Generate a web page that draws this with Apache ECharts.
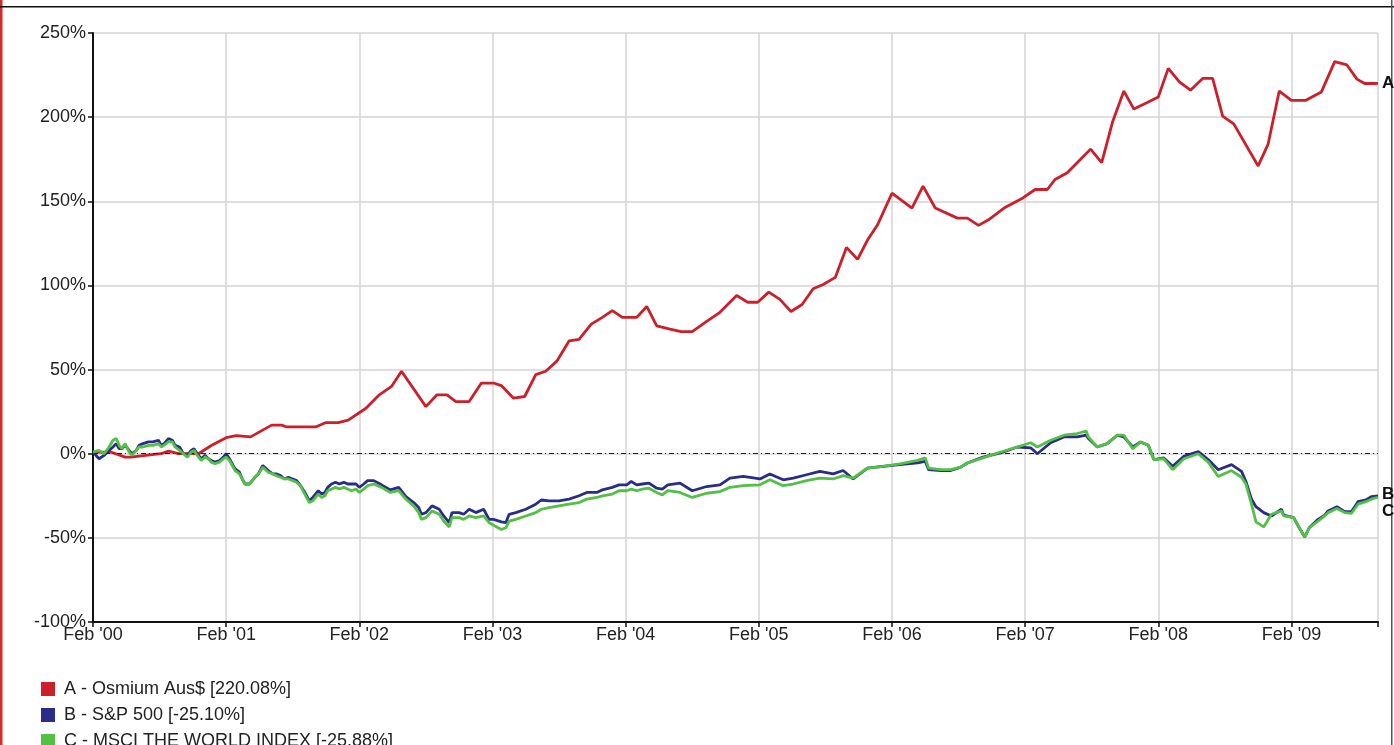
<!DOCTYPE html>
<html>
<head>
<meta charset="utf-8">
<script src="https://cdn.jsdelivr.net/npm/echarts@6/dist/echarts.min.js"></script>
<style>
html,body{margin:0;padding:0;background:#fff;}
#chart{width:1394px;height:745px;}
</style>
</head>
<body>
<div id="chart"></div>
<script>
// x positions are months since Feb 2000
const seriesNames = ['A - Osmium Aus$ [220.08%]', 'B - S&P 500 [-25.10%]', 'C - MSCI THE WORLD INDEX [-25.88%]'];
const endTags = ['A', 'B', 'C'];
const yearLabels = ["Feb '00","Feb '01","Feb '02","Feb '03","Feb '04","Feb '05","Feb '06","Feb '07","Feb '08","Feb '09"];

const aMonths = [0,1.6,2.9,3.4,6.1,6.8,7.7,9.5,10.7,12.0,12.9,14.2,16.1,17.0,17.4,20.1,21.0,22.1,23.0,24.6,25.8,26.9,27.8,30.0,31.0,31.9,32.7,33.9,35.0,36.1,36.8,37.9,38.9,39.9,40.8,41.8,42.9,43.8,44.9,45.9,46.8,47.7,49.0,49.9,50.8,52.0,53.0,54.0,55.3,56.5,58.0,59.0,59.9,60.9,61.9,62.9,63.9,64.9,65.8,66.9,67.9,68.9,69.8,70.7,72.0,73.8,74.8,75.9,77.9,78.8,79.8,80.7,82.1,83.8,84.9,86.0,86.7,87.8,89.0,89.9,90.9,91.9,92.9,93.8,95.1,96.0,96.9,97.9,98.9,100.0,100.9,101.8,102.8,105.0,105.9,106.9,108.0,109.3,110.7,111.9,113.0,113.9,114.6,115.4,115.8];
const aValues = [1,1,-2,-2,0,1.5,0,0,5,9.5,10.7,10,17,17,16,16,18.5,18.5,20,27,35,40,49,28,35,35,31,31,42,42,40.5,33,34,47,49,55,67,68,77,81,85,81,81,87.5,76,74,72.6,72.6,78.6,84,94,90,90,96,91.7,84.5,88.7,98,100.6,104.8,122.6,115.5,127,136,154.8,146,159,146,140,140,135.7,139,146,152,157,157,163,167,175,181,173,197.6,215.5,204.8,209,212,229,221,216,223,223,200.6,196,171,184,215.5,210,210,215,233,231,222.6,220,220,220.08];

const bcMonths = [0,0.54,1.0,1.45,1.8,2.1,2.35,2.6,2.9,3.25,3.5,3.9,4.15,4.5,5.0,5.4,5.9,6.15,6.4,6.8,7.15,7.4,7.8,8.15,8.5,8.85,9.1,9.4,9.75,10.1,10.4,10.65,11.0,11.4,11.75,12.0,12.3,12.55,12.8,13.2,13.45,13.7,14.1,14.35,14.6,14.9,15.3,15.8,16.2,16.5,16.9,17.25,17.6,18.0,18.35,18.7,19.0,19.25,19.5,19.8,20.05,20.3,20.6,20.9,21.15,21.5,21.85,22.2,22.6,22.95,23.3,23.7,24.0,24.4,24.75,25.3,26.0,26.8,27.55,28.2,28.9,29.35,29.6,30.0,30.55,31.2,31.6,32.1,32.35,33.0,33.4,33.9,34.5,35.2,35.7,36.1,36.8,37.2,37.5,38.1,39.0,39.9,40.4,41.1,42.0,42.9,43.8,44.5,45.4,45.9,46.8,47.4,48.1,48.5,49.0,49.5,50.1,50.8,51.3,51.8,52.9,54.0,55.3,56.5,57.4,58.6,60.1,61.0,62.2,63.1,64.3,65.5,66.7,67.6,68.5,69.8,71.2,72.7,74.3,75.0,75.3,76.4,77.3,78.2,78.8,80.2,81.8,83.3,84.5,85.1,86.3,87.5,88.7,89.5,89.7,90.5,91.4,92.3,92.9,93.7,94.4,95.1,95.6,96.5,97.3,98.3,99.6,100.5,101.4,102.6,103.5,103.9,104.4,104.8,105.5,106.2,107.1,107.3,108.2,108.7,109.2,109.6,110.4,111.0,111.3,112.1,112.8,113.4,114.0,114.7,115.2,115.8];
const bValues = [1,-3,-1,2,4,6,3,3,5,2,0,2,5,6,7,7,8,5,6,9,8,5,4,0,-1,2,3,0,-3,-1,-3,-4,-5,-4,-2,0,-3,-6,-9,-11,-15,-18,-18,-16,-14,-12,-7,-10,-12,-12,-13,-15,-14,-15,-16,-19,-22,-25,-28,-26,-24,-22,-24,-23,-20,-18,-17,-18,-17,-18,-18,-18,-20,-18,-16,-16,-18.5,-21.5,-20,-25.5,-29,-32,-36,-35,-31,-33,-37,-41,-35,-35,-36,-33,-35,-33,-39,-39,-40.5,-41,-36,-35,-33,-30,-27.5,-28,-28,-27,-25,-23,-23,-21.5,-20,-18.5,-18.5,-16.5,-18.5,-18,-17.5,-20.5,-21,-18.5,-17.5,-22,-19.5,-18.5,-14.5,-13.5,-15,-12,-15.5,-14.5,-12.5,-10.5,-12,-10,-15,-8.5,-7.5,-6.5,-5.5,-4.5,-9.5,-10,-10,-8,-5.5,-2,0.5,4,3.5,0,6.5,10,10,11,9,4,6,11,10,4,7,5,-3.5,-2.5,-7.5,-1.5,1.2,-3.5,-9.5,-6.5,-10.5,-16.5,-27,-31.5,-35,-37,-33,-36.5,-38,-44,-49.5,-44,-39,-36.5,-34,-31.5,-34.5,-34.5,-28.5,-27.5,-25.5,-25.1];
const cValues = [1,2,0,4,8,9,5,3,6,1,-1,2,4,4,5,5,6,4,5,7,7,4,2,0,-2,1,2,-1,-4,-2,-3,-5,-6,-5,-3,-2,-4,-7,-10,-12,-15,-18,-18,-16,-14,-12,-8,-11,-12,-13,-14,-15,-15,-16,-17,-19,-23,-26,-29,-28,-26,-24,-26,-25,-22,-21,-20,-21,-20,-21,-22,-21,-23,-21,-19,-18,-20,-23,-22,-27,-31,-35,-39,-38,-34,-36,-40,-43.5,-38,-38,-39,-37,-38,-37,-41,-42.5,-45,-44,-40,-39,-37,-35,-33,-32,-31,-30,-29,-27,-26,-25,-24,-22,-22,-21,-22,-21,-20.5,-23,-24.5,-22,-23,-26,-23.5,-22.5,-20,-19,-18.5,-15.5,-19,-18,-16,-14.5,-15,-13,-14.5,-8.5,-7.5,-6,-4,-2.5,-8.5,-9.5,-9.5,-8,-5.5,-2.5,1,4,6.5,4,8,11,12,13.5,10,4,6,11,11,3,7,5,-3.5,-3,-9.5,-3,0,-5,-13.5,-10,-14,-18,-30,-40.5,-43.5,-36,-34,-37,-38,-44,-49.5,-44,-40,-37,-35,-32.5,-35,-35.5,-30,-28.5,-27,-25.88];

const colors = ['#cc1f2a', '#292d88', '#52bf45'];

function pairs(xs, ys){ return xs.map((x,i)=>[x, ys[i]]); }

const chart = echarts.init(document.getElementById('chart'), null, {renderer:'canvas'});
const font = 'Arial, "Liberation Sans", sans-serif';

function endLabel(idx, off){
  return {show: true, formatter: endTags[idx], color: '#111', fontWeight: 'bold',
          fontSize: 17, fontFamily: font, distance: 4, offset: off};
}

function lineSeries(idx, data, extra){
  return Object.assign({
    name: seriesNames[idx],
    type: 'line',
    data: data,
    showSymbol: false,
    symbol: 'none',
    lineStyle: {color: colors[idx], width: 2.8},
    itemStyle: {color: colors[idx]},
    z: 3 + idx,
    endLabel: endLabel(idx, [0, 0])
  }, extra || {});
}

const option = {
  animation: false,
  backgroundColor: '#fff',
  color: colors,
  grid: {left: 93, right: 16, top: 33, bottom: 123, containLabel: false},
  xAxis: {
    type: 'value', min: 0, max: 115.8, interval: 12,
    axisLine: {show: true, onZero: false, lineStyle: {color: '#111', width: 2}},
    axisTick: {show: true, length: 5, lineStyle: {color: '#111', width: 1.5}},
    axisLabel: {
      color: '#222', fontSize: 18, fontFamily: font, margin: 4,
      formatter: function(v){ const k = Math.round(v/12); return (Math.abs(v - k*12) < 1e-6 && yearLabels[k]) ? yearLabels[k] : ''; }
    },
    splitLine: {show: true, lineStyle: {color: '#d4d4d4', width: 1.5}}
  },
  yAxis: {
    type: 'value', min: -100, max: 250, interval: 50,
    axisLine: {show: true, onZero: false, lineStyle: {color: '#111', width: 2}},
    axisTick: {show: true, length: 5, lineStyle: {color: '#111', width: 1.5}},
    axisLabel: {color: '#222', fontSize: 18, fontFamily: font, margin: 7, formatter: '{value}%'},
    splitLine: {show: true, lineStyle: {color: '#d4d4d4', width: 1.5}}
  },
  legend: {
    orient: 'vertical', left: 36, top: 674, height: 120, itemWidth: 14, itemHeight: 14, itemGap: 6,
    icon: 'rect',
    data: seriesNames,
    textStyle: {color: '#222', fontSize: 18, fontFamily: font, lineHeight: 20, padding: [0,0,0,4]}
  },
  graphic: [
    {type: 'rect', left: 0, top: 0, shape: {width: 2.5, height: 745}, style: {fill: '#d42a2a'}, silent: true},
    {type: 'rect', left: 0, top: 6, shape: {width: 1394, height: 1.5}, style: {fill: '#111'}, silent: true},
    {type: 'rect', left: 1391, top: 0, shape: {width: 1.5, height: 745}, style: {fill: '#555'}, silent: true}
  ],
  series: [
    lineSeries(0, pairs(aMonths, aValues), {
      markLine: {
        silent: true, symbol: 'none', label: {show: false},
        lineStyle: {color: '#222', width: 1, type: [5, 3, 1, 3]},
        data: [{yAxis: 0}]
      }
    }),
    lineSeries(1, pairs(bcMonths, bValues), {endLabel: endLabel(1, [0, -2])}),
    lineSeries(2, pairs(bcMonths, cValues), {endLabel: endLabel(2, [0, 14])})
  ]
};
chart.setOption(option);
</script>
</body>
</html>
